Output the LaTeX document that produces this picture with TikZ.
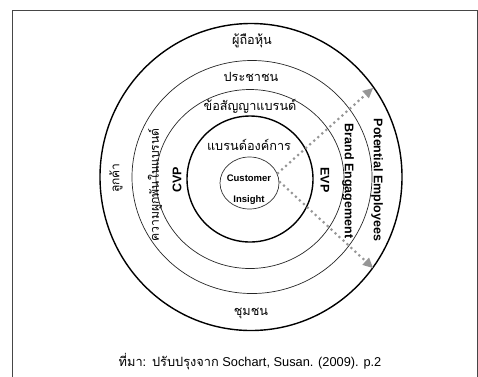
\documentclass[tikz,border=0pt]{standalone}
\usepackage{fontspec}
\setmainfont{Liberation Sans}
\newfontfamily\thai[Script=Thai]{Loma}
\usetikzlibrary{arrows.meta,shapes.geometric}
\definecolor{dotgray}{RGB}{150,150,150}
\definecolor{framegray}{RGB}{70,70,70}
\tikzset{
  thaitxt/.style={font=\thai\fontsize{12.7}{14}\selectfont, inner sep=0pt},
  boldlbl/.style={font=\bfseries\fontsize{12.5}{14}\selectfont, inner sep=0pt},
  thinring/.style={draw=black!85, line width=0.7pt},
  thickring/.style={draw=black, line width=1.4pt},
  dotarrow/.style={draw=dotgray, line width=3pt, line cap=round, dash pattern=on 0pt off 5.4pt,
    -{Triangle[length=10pt,width=10pt,fill=dotgray,line width=0pt]}},
}
\begin{document}
\begin{tikzpicture}[x=1pt,y=-1pt]
\useasboundingbox (0,0) rectangle (478,376);
% frame
\draw[framegray, line width=1pt] (12,400) -- (12,10.5) -- (477.5,10.5) -- (477.5,400);
% rings
\draw[line width=1.4pt] (251,177) ellipse [x radius=151, y radius=153.5];
\draw[thinring] (252,177) ellipse [x radius=120, y radius=116.5];
\draw[thinring] (250,179) ellipse [x radius=94, y radius=89.5];
\draw[thickring] (250,179) ellipse [x radius=63, y radius=63];
\node[draw=black!80, line width=0.7pt, ellipse, minimum width=59pt, minimum height=52pt, inner sep=0pt] (ci) at (249.5,183) {};
% arrows
\coordinate (s1) at (278,173);
\coordinate (s2) at (280,182);
\coordinate (t1) at (373,88);
\coordinate (t2) at (373,268);
\draw[dotarrow] (s1) -- (t1);
\draw[dotarrow] (s2) -- (t2);
% texts
\node[thaitxt] (sh) at (252,41) {ผู้ถือหุ้น};
\node[thaitxt] (pc) at (251,77) {ประชาชน};
\node[thaitxt] (bp) at (250,106) {ข้อสัญญาแบรนด์};
\node[thaitxt] (bo) at (249,145) {แบรนด์องค์การ};
\node[thaitxt] (cm) at (251,313) {ชุมชน};
\node[thaitxt, rotate=90, font=\thai\fontsize{12}{14}\selectfont] (cu) at (116,178) {ลูกค้า};
\node[thaitxt, rotate=90, font=\thai\fontsize{12.2}{14}\selectfont] (be) at (155,185) {ความผูกพันในแบรนด์};
\node[font=\bfseries\fontsize{9.5}{11}\selectfont, inner sep=0pt] (cust) at (249,178) {Customer};
\node[font=\bfseries\fontsize{9.5}{11}\selectfont, inner sep=0pt] (ins) at (249,200) {Insight};
\node[boldlbl, rotate=90] (cvp) at (177,180) {CVP};
\node[boldlbl, rotate=-90] (evp) at (325,180) {EVP};
\node[boldlbl, rotate=-90] (beng) at (348,181) {Brand Engagement};
\node[boldlbl, rotate=-90] (pe) at (377,180) {Potential Employees};
\node[inner sep=0pt, font=\fontsize{12.8}{14}\selectfont] (cap) at (250,362) {{\thai ที่มา: ปรับปรุงจาก} Sochart, Susan. (2009). p.2};
\end{tikzpicture}
\end{document}
